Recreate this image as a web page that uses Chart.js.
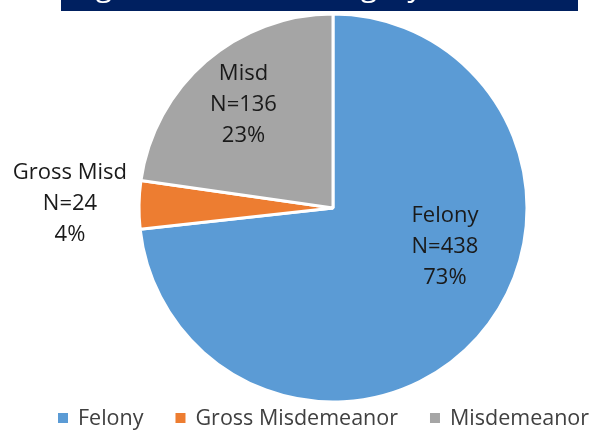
<!DOCTYPE html>
<html>
<head>
<meta charset="utf-8">
<script src="https://cdn.jsdelivr.net/npm/chart.js@4.4.1/dist/chart.umd.min.js"></script>
<style>
  html, body { margin: 0; padding: 0; background: #fff; }
</style>
</head>
<body>
<canvas id="pie" width="597" height="431"></canvas>
<script>
const categories = ['Felony', 'Gross Misdemeanor', 'Misdemeanor'];
const shortNames = ['Felony', 'Gross Misd', 'Misd'];
const counts = [438, 24, 136];
const percents = ['73%', '4%', '23%'];
const colors = ['#5B9BD5', '#ED7D31', '#A5A5A5'];
const chartTitle = 'Highest Offense Category';

const FONT = '"Open Sans", "Noto Sans", sans-serif';

// banner at the top (the title is mostly cut off in the original)
const bannerPlugin = {
  id: 'banner',
  beforeDraw(chart) {
    const ctx = chart.ctx;
    ctx.save();
    ctx.fillStyle = '#002060';
    ctx.fillRect(61, 0, 517, 11);
    ctx.beginPath();
    ctx.rect(61, 0, 517, 11);
    ctx.clip();
    ctx.fillStyle = '#fff';
    ctx.font = '30px ' + FONT;
    ctx.textBaseline = 'alphabetic';
    ctx.textAlign = 'left';
    ctx.fillText(chartTitle, 66, -4);
    ctx.restore();
  }
};

// data labels: name, N=, percent
const sliceLabels = {
  id: 'sliceLabels',
  afterDatasetsDraw(chart) {
    const ctx = chart.ctx;
    const arcs = chart.getDatasetMeta(0).data;
    // Excel "best fit" puts the Felony label off the bisector
    const angleOverride = [19.2, null, null];
    const radial = [0.611, 1.356, 0.704];
    const lineGap = 31;

    ctx.save();
    ctx.font = '22px ' + FONT;
    ctx.fillStyle = '#1a1a1a';
    ctx.textAlign = 'center';
    ctx.textBaseline = 'middle';

    arcs.forEach((arc, i) => {
      const p = arc.getProps(['x', 'y', 'startAngle', 'endAngle', 'outerRadius'], true);
      let angle = (p.startAngle + p.endAngle) / 2;
      if (angleOverride[i] !== null) angle = angleOverride[i] * Math.PI / 180;
      const r = p.outerRadius * radial[i];
      const cx = p.x + Math.cos(angle) * r;
      const cy = p.y + Math.sin(angle) * r;
      const lines = [shortNames[i], 'N=' + counts[i], percents[i]];
      lines.forEach((t, k) => ctx.fillText(t, cx, cy + (k - 1) * lineGap));
    });
    ctx.restore();
  }
};

// legend along the bottom
const bottomLegend = {
  id: 'bottomLegend',
  afterDraw(chart) {
    const ctx = chart.ctx;
    ctx.save();
    ctx.font = '21.5px ' + FONT;
    ctx.textBaseline = 'alphabetic';
    ctx.textAlign = 'left';
    let x = 58;
    categories.forEach((name, i) => {
      ctx.fillStyle = colors[i];
      ctx.fillRect(x, 413, 10, 10);
      ctx.fillStyle = '#404040';
      ctx.fillText(name, x + 20, 425);
      x += 20 + ctx.measureText(name).width + 32;
    });
    ctx.restore();
  }
};

new Chart(document.getElementById('pie'), {
  type: 'pie',
  data: {
    labels: categories,
    datasets: [{
      data: counts,
      backgroundColor: colors,
      borderColor: '#fff',
      borderWidth: 3
    }]
  },
  options: {
    responsive: false,
    animation: false,
    layout: {
      padding: { top: 12.5, bottom: 27.5, left: 137.5, right: 68.5 }
    },
    plugins: {
      legend: { display: false },
      tooltip: { enabled: false }
    }
  },
  plugins: [bannerPlugin, sliceLabels, bottomLegend]
});
</script>
</body>
</html>
